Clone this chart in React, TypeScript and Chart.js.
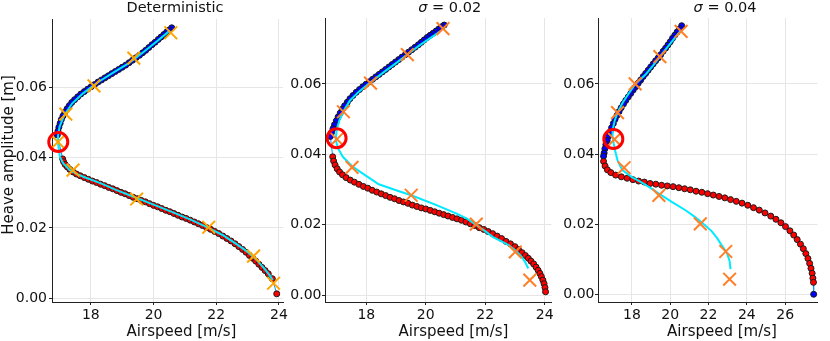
import React, { useEffect, useRef } from "react";
import { Chart, registerables } from "chart.js";

Chart.register(...registerables);

const FONT = '"DejaVu Sans", "Liberation Sans", sans-serif';
const TEXT = "#111111";
const GRID = "#e6e6e6";
const AXIS = "#222222";
const LINK = "#009afa";
const CYAN = "#00eaff";
const STABLE = "#0000ff";
const UNSTABLE = "#ff0000";
const H = 341;

// ---------- labels / ticks ----------
const titles = ["Deterministic", "σ = 0.02", "σ = 0.04"];
const xLabel = "Airspeed [m/s]";
const yLabel = "Heave amplitude [m]";
const yTickValues = [0, 0.02, 0.04, 0.06];
const xTicksP1 = [18, 20, 22, 24];
const xTicksP2 = [18, 20, 22, 24];
const xTicksP3 = [18, 20, 22, 24, 26];

// ---------- Panel 1: Deterministic ----------
const p1UpperX = [20.58, 20.5, 20.42, 20.33, 20.24, 20.15, 20.05, 19.95, 19.85, 19.75, 19.65, 19.55, 19.44, 19.33, 19.22, 19.11, 19.0, 18.89, 18.78, 18.67, 18.56, 18.45, 18.34, 18.23, 18.12, 18.01, 17.9, 17.79, 17.68, 17.58, 17.48, 17.39, 17.31, 17.24, 17.17, 17.11, 17.06, 17.02, 16.98, 16.95, 16.93];
const p1UpperY = [0.0768, 0.0762, 0.0756, 0.0749, 0.0742, 0.0735, 0.0727, 0.072, 0.0712, 0.0704, 0.0697, 0.069, 0.0683, 0.0676, 0.0669, 0.0662, 0.0656, 0.065, 0.0644, 0.0638, 0.0632, 0.0626, 0.062, 0.0614, 0.0607, 0.0601, 0.0594, 0.0587, 0.058, 0.0572, 0.0564, 0.0556, 0.0547, 0.0538, 0.0528, 0.0518, 0.0508, 0.0497, 0.0486, 0.0475, 0.0464];
const p1LowerX = [17.1, 17.13, 17.18, 17.25, 17.33, 17.43, 17.54, 17.66, 17.79, 17.92, 18.05, 18.18, 18.31, 18.44, 18.57, 18.7, 18.83, 18.96, 19.09, 19.22, 19.35, 19.48, 19.61, 19.74, 19.87, 20.0, 20.13, 20.26, 20.39, 20.52, 20.65, 20.78, 20.91, 21.04, 21.17, 21.3, 21.43, 21.56, 21.69, 21.82, 21.95, 22.08, 22.21, 22.34, 22.47, 22.6, 22.72, 22.84, 22.95, 23.06, 23.16, 23.26, 23.36, 23.46, 23.56, 23.66, 23.79, 23.93];
const p1LowerY = [0.0396, 0.0388, 0.038, 0.0373, 0.0366, 0.0359, 0.0353, 0.0348, 0.0343, 0.0338, 0.0333, 0.0329, 0.0324, 0.032, 0.0315, 0.0311, 0.0306, 0.0301, 0.0297, 0.0292, 0.0287, 0.0283, 0.0278, 0.0274, 0.0269, 0.0264, 0.026, 0.0255, 0.025, 0.0246, 0.0241, 0.0236, 0.0231, 0.0227, 0.0222, 0.0217, 0.0212, 0.0207, 0.0201, 0.0196, 0.019, 0.0184, 0.0177, 0.017, 0.0163, 0.0155, 0.0147, 0.0139, 0.0131, 0.0122, 0.0114, 0.0106, 0.0097, 0.0088, 0.0079, 0.007, 0.0056, 0.0013];
const p1EndX: number[] = [];
const p1EndY: number[] = [];
const p1FitX = [20.52, 20.1, 19.65, 19.2, 18.7, 18.2, 17.75, 17.4, 17.15, 17.0, 16.95, 16.96, 17.01, 17.12, 17.33, 17.55, 17.8, 18.3, 18.8, 19.4, 20.0, 20.6, 21.2, 21.75, 22.2, 22.6, 23.0, 23.3, 23.55, 23.7, 23.8];
const p1FitY = [0.076, 0.0729, 0.0697, 0.0667, 0.064, 0.0612, 0.0582, 0.0553, 0.052, 0.0487, 0.046, 0.0435, 0.0402, 0.0383, 0.0364, 0.0353, 0.0344, 0.0327, 0.0308, 0.0287, 0.0266, 0.0245, 0.0223, 0.02, 0.018, 0.0157, 0.0132, 0.0108, 0.0083, 0.0066, 0.0052];
const p1SampleX = [20.55, 19.37, 18.1, 17.2, 16.95, 17.43, 19.46, 21.76, 23.19, 23.83];
const p1SampleY = [0.0754, 0.0682, 0.0603, 0.0523, 0.0444, 0.0364, 0.0282, 0.0202, 0.012, 0.0043];
const p1FoldX = [16.96];
const p1FoldY = [0.0444];

// ---------- Panel 2: sigma = 0.02 ----------
const p2UpperX = [20.62, 20.53, 20.44, 20.35, 20.25, 20.15, 20.05, 19.95, 19.85, 19.75, 19.64, 19.53, 19.42, 19.31, 19.2, 19.09, 18.98, 18.87, 18.76, 18.65, 18.54, 18.43, 18.32, 18.21, 18.1, 17.99, 17.88, 17.77, 17.66, 17.55, 17.45, 17.36, 17.27, 17.19, 17.12, 17.05, 16.99, 16.93, 16.88, 16.83, 16.79];
const p2UpperY = [0.0767, 0.0762, 0.0756, 0.075, 0.0744, 0.0738, 0.0732, 0.0725, 0.0718, 0.0711, 0.0704, 0.0697, 0.069, 0.0683, 0.0676, 0.0669, 0.0662, 0.0655, 0.0648, 0.0641, 0.0634, 0.0627, 0.062, 0.0613, 0.0606, 0.0599, 0.0592, 0.0584, 0.0576, 0.0567, 0.0558, 0.0548, 0.0538, 0.0528, 0.0517, 0.0506, 0.0495, 0.0484, 0.0473, 0.0462, 0.0451];
const p2LowerX = [16.87, 16.9, 16.95, 17.02, 17.1, 17.2, 17.32, 17.46, 17.6, 17.75, 17.9, 18.05, 18.2, 18.35, 18.5, 18.65, 18.8, 18.95, 19.1, 19.25, 19.4, 19.55, 19.7, 19.85, 20.0, 20.15, 20.3, 20.45, 20.6, 20.75, 20.9, 21.05, 21.2, 21.35, 21.5, 21.65, 21.8, 21.95, 22.1, 22.25, 22.4, 22.55, 22.7, 22.85, 23.0, 23.12, 23.24, 23.35, 23.45, 23.54, 23.63, 23.71, 23.78, 23.84, 23.89, 23.94, 23.98, 24.01, 24.03];
const p2LowerY = [0.0393, 0.0381, 0.037, 0.0359, 0.035, 0.0342, 0.0334, 0.0327, 0.0321, 0.0315, 0.0309, 0.0304, 0.0298, 0.0293, 0.0288, 0.0283, 0.0278, 0.0274, 0.0269, 0.0265, 0.0261, 0.0256, 0.0252, 0.0248, 0.0245, 0.0241, 0.0237, 0.0233, 0.0229, 0.0225, 0.0221, 0.0217, 0.0213, 0.0208, 0.0203, 0.0198, 0.0192, 0.0187, 0.0181, 0.0175, 0.0168, 0.0161, 0.0153, 0.0146, 0.0138, 0.013, 0.0121, 0.0113, 0.0105, 0.0097, 0.0089, 0.008, 0.0071, 0.0062, 0.0053, 0.0043, 0.0033, 0.0022, 0.001];
const p2EndX: number[] = [];
const p2EndY: number[] = [];
const p2FitX = [20.5, 20.15, 19.8, 19.4, 19.0, 18.6, 18.15, 17.75, 17.45, 17.25, 17.1, 17.0, 16.97, 17.05, 17.21, 17.54, 17.87, 18.42, 19.0, 19.51, 20.3, 21.04, 21.4, 21.7, 22.0, 22.25, 22.55, 22.8, 23.05, 23.23, 23.35, 23.45];
const p2FitY = [0.075, 0.073, 0.071, 0.0685, 0.0659, 0.0634, 0.0605, 0.0578, 0.0553, 0.0525, 0.0498, 0.0469, 0.0441, 0.0417, 0.0393, 0.0365, 0.0346, 0.0315, 0.0298, 0.0284, 0.0258, 0.0232, 0.0217, 0.0199, 0.0182, 0.0166, 0.0153, 0.0142, 0.0125, 0.0109, 0.0093, 0.0076];
const p2SampleX = [20.58, 19.38, 18.14, 17.23, 17.01, 17.52, 19.51, 21.7, 23.01, 23.5];
const p2SampleY = [0.0757, 0.0683, 0.0602, 0.0521, 0.0443, 0.0363, 0.0284, 0.0202, 0.0123, 0.0043];
const p2FoldX = [17.0];
const p2FoldY = [0.0446];

// ---------- Panel 3: sigma = 0.04 ----------
const p3UpperX = [20.6, 20.48, 20.36, 20.24, 20.12, 20.0, 19.88, 19.76, 19.63, 19.5, 19.37, 19.24, 19.11, 18.98, 18.85, 18.72, 18.59, 18.46, 18.33, 18.2, 18.07, 17.94, 17.81, 17.68, 17.56, 17.44, 17.33, 17.22, 17.12, 17.03, 16.94, 16.86, 16.78, 16.71, 16.64, 16.59, 16.55, 16.52];
const p3UpperY = [0.0766, 0.0757, 0.0748, 0.0739, 0.073, 0.072, 0.0711, 0.0702, 0.0693, 0.0683, 0.0674, 0.0666, 0.0657, 0.0648, 0.0639, 0.063, 0.0621, 0.0611, 0.0602, 0.0592, 0.0583, 0.0573, 0.0563, 0.0553, 0.0543, 0.0532, 0.0521, 0.051, 0.0499, 0.0487, 0.0475, 0.0463, 0.0451, 0.0439, 0.0427, 0.0415, 0.0403, 0.0394];
const p3LowerX = [16.52, 16.6, 16.72, 16.9, 17.15, 17.45, 17.75, 18.05, 18.35, 18.65, 18.95, 19.25, 19.55, 19.85, 20.15, 20.45, 20.75, 21.05, 21.35, 21.65, 21.95, 22.25, 22.55, 22.85, 23.15, 23.45, 23.75, 24.05, 24.35, 24.65, 24.95, 25.25, 25.52, 25.78, 26.02, 26.25, 26.45, 26.63, 26.8, 26.95, 27.08, 27.19, 27.28, 27.35, 27.41, 27.45, 27.48];
const p3LowerY = [0.0379, 0.0366, 0.0355, 0.0347, 0.034, 0.0335, 0.0331, 0.0327, 0.0323, 0.032, 0.0316, 0.0314, 0.0311, 0.0309, 0.0307, 0.0304, 0.0301, 0.0298, 0.0294, 0.0291, 0.0287, 0.0283, 0.0279, 0.0275, 0.027, 0.0265, 0.026, 0.0254, 0.0247, 0.024, 0.0232, 0.0223, 0.0214, 0.0204, 0.0193, 0.0181, 0.0169, 0.0156, 0.0143, 0.013, 0.0116, 0.0102, 0.0088, 0.0074, 0.006, 0.0046, 0.0034];
const p3EndX = [27.49];
const p3EndY = [0.0];
const p3FitX = [20.55, 20.25, 19.9, 19.48, 19.1, 18.7, 18.18, 17.8, 17.5, 17.25, 17.1, 17.0, 16.99, 17.05, 17.12, 17.25, 17.5, 18.0, 18.5, 19.0, 19.41, 20.1, 20.82, 21.3, 21.65, 22.15, 22.45, 22.65, 22.85, 22.98, 23.1, 23.15];
const p3FitY = [0.0752, 0.0732, 0.0708, 0.0679, 0.0652, 0.0626, 0.06, 0.057, 0.0545, 0.0518, 0.0495, 0.047, 0.045, 0.043, 0.041, 0.0382, 0.0354, 0.0334, 0.0319, 0.0302, 0.0287, 0.0263, 0.0239, 0.022, 0.0205, 0.0181, 0.016, 0.0143, 0.0127, 0.0115, 0.0095, 0.0072];
const p3SampleX = [20.57, 19.46, 18.17, 17.25, 17.09, 17.59, 19.41, 21.57, 22.9, 23.1];
const p3SampleY = [0.075, 0.0678, 0.06, 0.0518, 0.0442, 0.0361, 0.0282, 0.0201, 0.0122, 0.0043];
const p3FoldX = [17.03];
const p3FoldY = [0.0443];

// ---------- helpers ----------
const zip = (xs: number[], ys: number[]) =>
  xs.slice(0, Math.min(xs.length, ys.length)).map((x, i) => ({ x, y: ys[i] }));

type PanelSpec = {
  left: number;
  width: number;
  yAxisWidth: number;
  padRight: number;
  padTop: number;
  yTickPad: number;
  xMin: number;
  xMax: number;
  yMin: number;
  yMax: number;
  xTicks: number[];
  title: string;
  titleCx: number;
  xLabelCx: number;
  showYLabel: boolean;
  sampleColor: string;
  upper: { x: number; y: number }[];
  lower: { x: number; y: number }[];
  end: { x: number; y: number }[];
  fit: { x: number; y: number }[];
  samples: { x: number; y: number }[];
  fold: { x: number; y: number }[];
};

const panels: PanelSpec[] = [
  {
    left: 0, width: 296, yAxisWidth: 52, padRight: 13, padTop: 19, yTickPad: 2,
    xMin: 16.76, xMax: 24.13, yMin: -0.00102, yMax: 0.0793, xTicks: xTicksP1,
    title: titles[0], titleCx: 175, xLabelCx: 181.5, showYLabel: true, sampleColor: "#ffa500",
    upper: zip(p1UpperX, p1UpperY), lower: zip(p1LowerX, p1LowerY), end: zip(p1EndX, p1EndY),
    fit: zip(p1FitX, p1FitY), samples: zip(p1SampleX, p1SampleY), fold: zip(p1FoldX, p1FoldY),
  },
  {
    left: 284, width: 280, yAxisWidth: 41, padRight: 7, padTop: 18, yTickPad: 0.5,
    xMin: 16.61, xMax: 24.23, yMin: -0.0019, yMax: 0.0787, xTicks: xTicksP2,
    title: titles[1], titleCx: 449.7, xLabelCx: 453.5, showYLabel: false, sampleColor: "#ff7f27",
    upper: zip(p2UpperX, p2UpperY), lower: zip(p2LowerX, p2LowerY), end: zip(p2EndX, p2EndY),
    fit: zip(p2FitX, p2FitY), samples: zip(p2SampleX, p2SampleY), fold: zip(p2FoldX, p2FoldY),
  },
  {
    left: 556, width: 274, yAxisWidth: 42, padRight: 2, padTop: 18, yTickPad: 0.5,
    xMin: 16.23, xMax: 27.69, yMin: -0.0022, yMax: 0.0788, xTicks: xTicksP3,
    title: titles[2], titleCx: 725, xLabelCx: 722, showYLabel: false, sampleColor: "#ff7f27",
    upper: zip(p3UpperX, p3UpperY), lower: zip(p3LowerX, p3LowerY), end: zip(p3EndX, p3EndY),
    fit: zip(p3FitX, p3FitY), samples: zip(p3SampleX, p3SampleY), fold: zip(p3FoldX, p3FoldY),
  },
];

const TITLE_SIZE = 14.5;
const LABEL_SIZE = 15;
const TICK_SIZE = 14;

function textPlugin(p: PanelSpec) {
  return {
    id: "panelText",
    afterDraw(chart: any) {
      const ctx: CanvasRenderingContext2D = chart.ctx;
      ctx.save();
      ctx.fillStyle = TEXT;
      ctx.textBaseline = "alphabetic";
      const normal = `${TITLE_SIZE}px ${FONT}`;
      const italic = `italic ${TITLE_SIZE}px ${FONT}`;
      const t = p.title;
      const tx = p.titleCx - p.left;
      const tBase = 12;
      if (t.startsWith("σ")) {
        const rest = t.slice(1);
        ctx.font = italic;
        const w1 = ctx.measureText("σ").width;
        ctx.font = normal;
        const w2 = ctx.measureText(rest).width;
        const x0 = tx - (w1 + w2) / 2;
        ctx.textAlign = "left";
        ctx.font = italic;
        ctx.fillText("σ", x0, tBase);
        ctx.font = normal;
        ctx.fillText(rest, x0 + w1, tBase);
      } else {
        ctx.font = normal;
        ctx.textAlign = "center";
        ctx.fillText(t, tx, tBase);
      }
      ctx.font = `${LABEL_SIZE}px ${FONT}`;
      ctx.textAlign = "center";
      ctx.fillText(xLabel, p.xLabelCx - p.left, 335.5);
      if (p.showYLabel) {
        ctx.translate(12.5, 155);
        ctx.rotate(-Math.PI / 2);
        ctx.fillText(yLabel, 0, 0);
      }
      ctx.restore();
    },
  };
}

function buildConfig(p: PanelSpec): any {
  const dots = [...p.upper, ...p.lower, ...p.end];
  const dotColors = [
    ...p.upper.map(() => STABLE),
    ...p.lower.map(() => UNSTABLE),
    ...p.end.map(() => STABLE),
  ];
  const tickFont = { family: FONT, size: TICK_SIZE };
  return {
    type: "scatter",
    data: {
      datasets: [
        {
          data: p.fold,
          showLine: false,
          pointStyle: "circle",
          pointRadius: 9.5,
          pointHoverRadius: 9.5,
          pointBackgroundColor: "rgba(0,0,0,0)",
          pointBorderColor: "#ff0000",
          pointBorderWidth: 3,
          order: 1,
          clip: false,
        },
        {
          data: p.samples,
          showLine: false,
          pointStyle: "crossRot",
          pointRadius: 9,
          pointHoverRadius: 9,
          pointBorderColor: p.sampleColor,
          pointBackgroundColor: p.sampleColor,
          pointBorderWidth: 2,
          order: 2,
          clip: false,
        },
        {
          data: p.fit,
          showLine: true,
          borderColor: CYAN,
          borderWidth: 2,
          pointRadius: 0,
          pointHoverRadius: 0,
          tension: 0,
          order: 3,
          clip: false,
        },
        {
          data: dots,
          showLine: true,
          borderColor: LINK,
          borderWidth: 1,
          pointRadius: 3,
          pointHoverRadius: 3,
          pointBackgroundColor: dotColors,
          pointBorderColor: "#1a1a1a",
          pointBorderWidth: 1,
          tension: 0,
          order: 4,
          clip: false,
        },
      ],
    },
    options: {
      responsive: false,
      maintainAspectRatio: false,
      animation: false,
      events: [],
      layout: { padding: { top: p.padTop, right: p.padRight, left: 0, bottom: 0 } },
      plugins: { legend: { display: false }, tooltip: { enabled: false }, title: { display: false } },
      scales: {
        x: {
          type: "linear",
          position: "bottom",
          min: p.xMin,
          max: p.xMax,
          afterBuildTicks: (s: any) => {
            s.ticks = p.xTicks.map((v) => ({ value: v }));
          },
          afterFit: (s: any) => {
            s.height = 39;
          },
          ticks: {
            font: tickFont,
            color: TEXT,
            padding: 2,
            maxRotation: 0,
            autoSkip: false,
            callback: (v: any) => String(v),
          },
          grid: { color: GRID, lineWidth: 1, tickLength: 3, tickColor: AXIS, drawTicks: true },
          border: { display: true, color: AXIS, width: 1 },
          title: { display: false },
        },
        y: {
          type: "linear",
          position: "left",
          min: p.yMin,
          max: p.yMax,
          afterBuildTicks: (s: any) => {
            s.ticks = yTickValues.map((v) => ({ value: v }));
          },
          afterFit: (s: any) => {
            s.width = p.yAxisWidth;
          },
          ticks: {
            font: tickFont,
            color: TEXT,
            padding: p.yTickPad,
            autoSkip: false,
            callback: (v: any) => Number(v).toFixed(2),
          },
          grid: { color: GRID, lineWidth: 1, tickLength: 3, tickColor: AXIS, drawTicks: true },
          border: { display: true, color: AXIS, width: 1 },
          title: { display: false },
        },
      },
    },
    plugins: [textPlugin(p)],
  };
}

function Panel({ p }: { p: PanelSpec }) {
  const ref = useRef<HTMLCanvasElement>(null);
  useEffect(() => {
    const chart = new Chart(ref.current as HTMLCanvasElement, buildConfig(p));
    return () => chart.destroy();
  }, [p]);
  return (
    <canvas
      ref={ref}
      width={p.width}
      height={H}
      style={{ position: "absolute", left: p.left, top: 0, width: p.width, height: H }}
    />
  );
}

export default function App() {
  return (
    <div
      style={{
        position: "fixed",
        left: 0,
        top: 0,
        width: 830,
        height: H,
        background: "#ffffff",
        overflow: "hidden",
      }}
    >
      {panels.map((p, i) => (
        <Panel key={i} p={p} />
      ))}
    </div>
  );
}
